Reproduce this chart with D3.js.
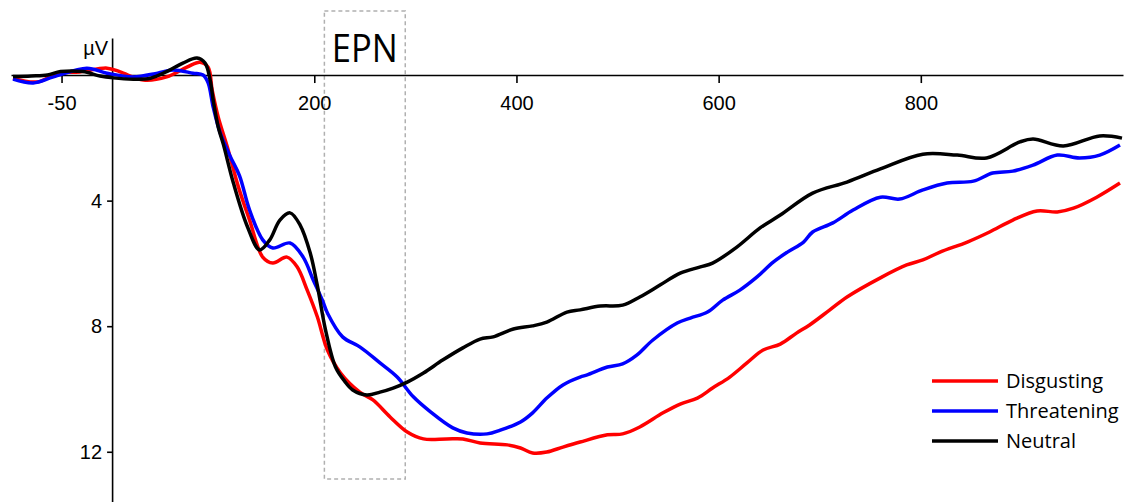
<!DOCTYPE html>
<html>
<head>
<meta charset="utf-8">
<script src="https://cdn.jsdelivr.net/npm/d3@7"></script>
<style>
  body { margin: 0; background: #fff; }
  svg { display: block; }
</style>
</head>
<body>
<div id="chart"></div>
<script>
var w = 1133;
var h = 502;

// ERP waveforms, [time in ms, amplitude in µV] (negative plotted up)
var disgusting = [[-98,0.1],[-74,0.22],[-54,-0.06],[-32,-0.1],[-5,-0.22],[8,-0.1],[31,0.16],[54,0.06],[74,-0.25],[87,-0.41],[95,-0.25],[99,0.48],[105,1.34],[114,2.29],[125,3.57],[136,4.62],[149,5.8],[159,5.99],[173,5.8],[183,6.11],[193,6.85],[203,7.7],[213,8.76],[226,9.49],[245,10.1],[258,10.35],[275,10.89],[292,11.37],[308,11.59],[331,11.59],[347,11.59],[364,11.72],[391,11.78],[404,11.88],[416,12.04],[430,12.01],[446,11.85],[463,11.69],[490,11.46],[505,11.43],[522,11.21],[545,10.76],[562,10.48],[579,10.29],[594,9.97],[611,9.62],[628,9.17],[644,8.76],[661,8.57],[677,8.22],[690,7.96],[710,7.48],[727,7.07],[760,6.46],[786,6.05],[802,5.89],[819,5.64],[846,5.32],[868,5.0],[891,4.62],[915,4.33],[935,4.36],[951,4.24],[974,3.89],[997,3.44]];

var threatening = [[-98,0.13],[-78,0.25],[-58,0.06],[-25,-0.22],[-5,-0.06],[21,0.06],[45,-0.06],[60,-0.16],[80,-0.06],[90,0],[95,0.25],[100,1.02],[107,1.85],[117,2.6],[126,3.2],[136,4.3],[149,5.25],[159,5.51],[176,5.35],[189,5.8],[199,6.53],[208,7.17],[213,7.58],[228,8.34],[245,8.66],[265,9.17],[282,9.62],[298,10.25],[315,10.73],[337,11.24],[351,11.4],[371,11.43],[384,11.31],[404,11.05],[416,10.76],[430,10.29],[446,9.87],[463,9.62],[470,9.55],[490,9.3],[505,9.2],[519,8.92],[535,8.44],[559,7.9],[572,7.74],[589,7.55],[604,7.17],[621,6.85],[638,6.43],[654,5.96],[668,5.64],[684,5.32],[693,5.0],[713,4.71],[733,4.3],[760,3.89],[779,3.95],[802,3.66],[826,3.44],[852,3.38],[871,3.12],[891,3.06],[911,2.87],[935,2.55],[957,2.64],[977,2.55],[997,2.23]];

var neutral = [[-98,0.05],[-80,0.03],[-64,0],[-51,-0.11],[-29,-0.11],[-12,0.03],[1,0.09],[21,0.13],[38,0.1],[54,-0.11],[70,-0.38],[84,-0.54],[92,-0.38],[97,0.16],[100,0.8],[105,1.66],[110,2.2],[120,3.44],[134,4.84],[146,5.57],[156,5.25],[166,4.62],[176,4.39],[186,4.78],[196,5.67],[203,6.7],[211,8.1],[221,9.3],[230,9.75],[238,10.03],[252,10.19],[265,10.1],[278,9.97],[292,9.78],[308,9.49],[327,9.08],[347,8.69],[364,8.41],[377,8.34],[397,8.09],[416,7.99],[430,7.87],[450,7.55],[463,7.48],[483,7.36],[505,7.33],[522,7.07],[542,6.69],[562,6.31],[582,6.11],[594,5.99],[618,5.48],[641,4.87],[661,4.46],[693,3.76],[727,3.41],[760,2.99],[802,2.52],[836,2.55],[865,2.64],[898,2.13],[911,2.04],[941,2.26],[977,1.94],[999,2.01]];

var seriesNames = ["Disgusting", "Threatening", "Neutral"];
var seriesColors = ["#ff0000", "#0000ff", "#000000"];
var xTicks = [-50, 200, 400, 600, 800];
var yTicks = [4, 8, 12];
var epnWindow = [210, 290];

var xScale = d3.scaleLinear().domain([-100, 1000]).range([11, 1123]);
var yScale = d3.scaleLinear().domain([-1.18, 13.6]).range([38, 502]);

var svg = d3.select("#chart").append("svg").attr("width", w).attr("height", h);

// EPN window
svg.append("rect")
  .attr("x", xScale(epnWindow[0]))
  .attr("y", 11)
  .attr("width", xScale(epnWindow[1]) - xScale(epnWindow[0]))
  .attr("height", 468)
  .attr("fill", "none")
  .attr("stroke", "#b0b0b0")
  .attr("stroke-width", 1.5)
  .attr("stroke-dasharray", "4,3");

svg.append("text")
  .attr("x", (xScale(epnWindow[0]) + xScale(epnWindow[1])) / 2)
  .attr("y", 62)
  .attr("text-anchor", "middle")
  .attr("font-family", "'Open Sans', sans-serif")
  .attr("font-size", 39)
  .attr("textLength", 66)
  .attr("lengthAdjust", "spacingAndGlyphs")
  .text("EPN");

// axes
var plain = function (d) { return String(d); };

var xAxis = d3.axisBottom(xScale).tickValues(xTicks).tickFormat(plain)
  .tickSize(8).tickSizeOuter(0).tickPadding(13);
var gx = svg.append("g").attr("transform", "translate(0," + yScale(0) + ")").call(xAxis)
  .attr("font-family", "'Liberation Sans', Arial, sans-serif")
  .attr("font-size", 20);
gx.selectAll("text").attr("fill", "#000");
gx.selectAll("path, line").attr("stroke", "#000").attr("stroke-width", 1.6);

var yAxis = d3.axisLeft(yScale).tickValues(yTicks).tickFormat(plain)
  .tickSize(5).tickSizeOuter(0).tickPadding(5);
var gy = svg.append("g").attr("transform", "translate(" + xScale(0) + ",0)").call(yAxis)
  .attr("font-family", "'Liberation Sans', Arial, sans-serif")
  .attr("font-size", 20);
gy.selectAll("text").attr("fill", "#000");
gy.selectAll("path, line").attr("stroke", "#000").attr("stroke-width", 1.6);

svg.append("text")
  .attr("x", xScale(0) - 4)
  .attr("y", 55)
  .attr("text-anchor", "end")
  .attr("font-family", "'Liberation Sans', Arial, sans-serif")
  .attr("font-size", 20)
  .text("µV");

// waveforms
var line = d3.line()
  .x(function (d) { return xScale(d[0]); })
  .y(function (d) { return yScale(d[1]); })
  .curve(d3.curveCatmullRom.alpha(0.5));

var allSeries = [disgusting, threatening, neutral];
svg.selectAll("path.wave")
  .data(allSeries)
  .enter()
  .append("path")
  .attr("class", "wave")
  .attr("d", line)
  .attr("fill", "none")
  .attr("stroke", function (d, i) { return seriesColors[i]; })
  .attr("stroke-width", 3.5)
  .attr("stroke-linejoin", "round");

// legend
var legend = svg.selectAll("g.legend")
  .data(seriesNames)
  .enter()
  .append("g")
  .attr("class", "legend")
  .attr("transform", function (d, i) { return "translate(932," + (381 + i * 30) + ")"; });

legend.append("line")
  .attr("x1", 0).attr("x2", 66)
  .attr("stroke", function (d, i) { return seriesColors[i]; })
  .attr("stroke-width", 3.5);

legend.append("text")
  .attr("x", 74)
  .attr("dy", "0.35em")
  .attr("font-family", "'Open Sans', sans-serif")
  .attr("font-size", 20)
  .text(function (d) { return d; });
</script>
</body>
</html>
